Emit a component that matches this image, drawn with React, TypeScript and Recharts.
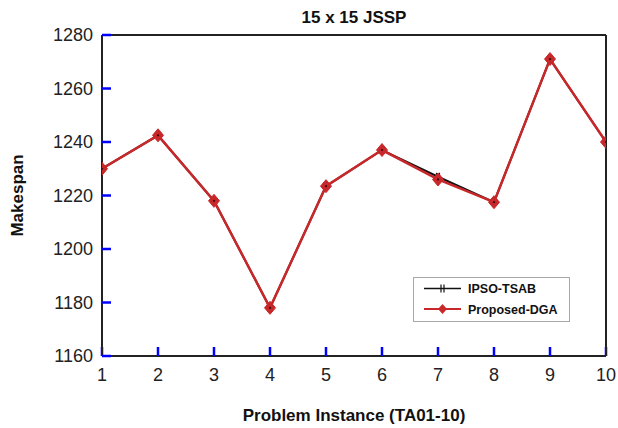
import React from "react";
import { LineChart, Line, XAxis, YAxis } from "recharts";

const instances = [1, 2, 3, 4, 5, 6, 7, 8, 9, 10];
const ipsoTsab = [1230, 1242.5, 1218, 1178, 1223.5, 1237, 1227, 1217.5, 1271, 1240];
const proposedDga = [1230, 1242.5, 1218, 1178, 1223.5, 1237, 1226, 1217.5, 1271, 1240];
const yTicks = [1160, 1180, 1200, 1220, 1240, 1260, 1280];
const xTicks = [1, 2, 3, 4, 5, 6, 7, 8, 9, 10];
const seriesNames = ["IPSO-TSAB", "Proposed-DGA"];

const data = instances.map((x, i) => ({ x, ipso: ipsoTsab[i], dga: proposedDga[i] }));

const FONT = "'Liberation Sans', Arial, sans-serif";
const AXIS = "#222";
const RED = "#c8282a";

const tickText = { fontSize: 18, fill: "#222", fontFamily: FONT };
const tickLineStyle = { stroke: "#0000ff", strokeWidth: 2.5 };
const axisLineStyle = { stroke: AXIS, strokeWidth: 2 };

const TitleLabel = (p: any) => {
  const vb = p.viewBox || {};
  return (
    <text x={vb.x + vb.width / 2} y={vb.y - 11} textAnchor="middle" fontSize={17} fontWeight="bold" fill="#111" fontFamily={FONT}>
      15 x 15 JSSP
    </text>
  );
};
const XLabel = (p: any) => {
  const vb = p.viewBox || {};
  return (
    <text x={vb.x + vb.width / 2} y={vb.y + 65} textAnchor="middle" fontSize={17} fontWeight="bold" fill="#111" fontFamily={FONT}>
      Problem Instance (TA01-10)
    </text>
  );
};
const YLabel = (p: any) => {
  const vb = p.viewBox || {};
  const cx = vb.x + 17.5;
  const cy = vb.y + vb.height / 2;
  return (
    <text x={cx} y={cy} transform={`rotate(-90 ${cx} ${cy})`} textAnchor="middle" dominantBaseline="central" fontSize={17} fontWeight="bold" fill="#111" fontFamily={FONT}>
      Makespan
    </text>
  );
};

const Diamond = (p: any) => {
  const { cx, cy } = p;
  if (cx == null || cy == null) return null;
  return (
    <g key={`d-${p.index}`}>
      <polygon points={`${cx},${cy - 6.5} ${cx + 5.5},${cy} ${cx},${cy + 6.5} ${cx - 5.5},${cy}`} fill={RED} stroke={RED} strokeWidth={1} />
      <circle cx={cx} cy={cy} r={1.1} fill="#3a0a0a" />
    </g>
  );
};
const BarMark = (p: any) => {
  const { cx, cy } = p;
  if (cx == null || cy == null) return null;
  return (
    <g key={`b-${p.index}`}>
      <line x1={cx - 1.5} y1={cy - 4} x2={cx - 1.5} y2={cy + 4} stroke="#111" strokeWidth={1.2} />
      <line x1={cx + 1.5} y1={cy - 4} x2={cx + 1.5} y2={cy + 4} stroke="#111" strokeWidth={1.2} />
    </g>
  );
};

const LegendBox = () => (
  <div
    style={{
      position: "absolute",
      left: 413,
      top: 277,
      width: 157,
      height: 45,
      border: "1.5px solid #a8a8a8",
      background: "#fff",
      boxSizing: "border-box",
      fontFamily: FONT,
    }}
  >
    <svg width={157} height={45} style={{ position: "absolute", left: -1.5, top: -1.5 }}>
      <line x1={11} y1={11.5} x2={48} y2={11.5} stroke="#111" strokeWidth={1.5} />
      <line x1={28} y1={7.5} x2={28} y2={15.5} stroke="#111" strokeWidth={1.2} />
      <line x1={31} y1={7.5} x2={31} y2={15.5} stroke="#111" strokeWidth={1.2} />
      <text x={55} y={16} fontSize={12.5} fontWeight="bold" fill="#111" fontFamily={FONT}>{seriesNames[0]}</text>
      <line x1={11} y1={32} x2={48} y2={32} stroke={RED} strokeWidth={2} />
      <polygon points="29.5,27 34,32 29.5,37 25,32" fill={RED} />
      <text x={55} y={36.5} fontSize={12.5} fontWeight="bold" fill="#111" fontFamily={FONT}>{seriesNames[1]}</text>
    </svg>
  </div>
);

export default function App() {
  return (
    <div style={{ position: "absolute", left: 0, top: 0, width: 618, height: 428, background: "#fff" }}>
      <LineChart width={618} height={428} data={data} margin={{ top: 34, right: 11, left: 0, bottom: 0 }}>
        <XAxis
          dataKey="x"
          type="number"
          xAxisId="bottom"
          domain={[1, 10]}
          ticks={xTicks}
          height={72}
          tickSize={-9}
          tickMargin={21}
          tickLine={tickLineStyle}
          tick={tickText}
          axisLine={axisLineStyle}
          label={{ content: <XLabel /> }}
          allowDataOverflow
        />
        <XAxis
          dataKey="x"
          type="number"
          xAxisId="top"
          orientation="top"
          domain={[1, 10]}
          ticks={xTicks}
          height={1}
          tickSize={-9}
          tickMargin={0}
          tickLine={tickLineStyle}
          tick={false}
          axisLine={axisLineStyle}
          label={{ content: <TitleLabel /> }}
          allowDataOverflow
        />
        <YAxis
          yAxisId="left"
          type="number"
          domain={[1160, 1280]}
          ticks={yTicks}
          width={102}
          tickSize={-9}
          tickMargin={18}
          tickLine={tickLineStyle}
          tick={tickText}
          axisLine={axisLineStyle}
          label={{ content: <YLabel /> }}
          allowDataOverflow
        />
        <YAxis
          yAxisId="right"
          orientation="right"
          type="number"
          domain={[1160, 1280]}
          ticks={yTicks}
          width={1}
          tickSize={-9}
          tickMargin={0}
          tickLine={tickLineStyle}
          tick={false}
          axisLine={axisLineStyle}
          allowDataOverflow
        />
        <Line
          xAxisId="bottom"
          yAxisId="left"
          dataKey="ipso"
          name={seriesNames[0]}
          stroke="#111"
          strokeWidth={2}
          dot={<BarMark />}
          isAnimationActive={false}
        />
        <Line
          xAxisId="bottom"
          yAxisId="left"
          dataKey="dga"
          name={seriesNames[1]}
          stroke={RED}
          strokeWidth={2.5}
          dot={<Diamond />}
          isAnimationActive={false}
        />
      </LineChart>
      <LegendBox />
    </div>
  );
}
